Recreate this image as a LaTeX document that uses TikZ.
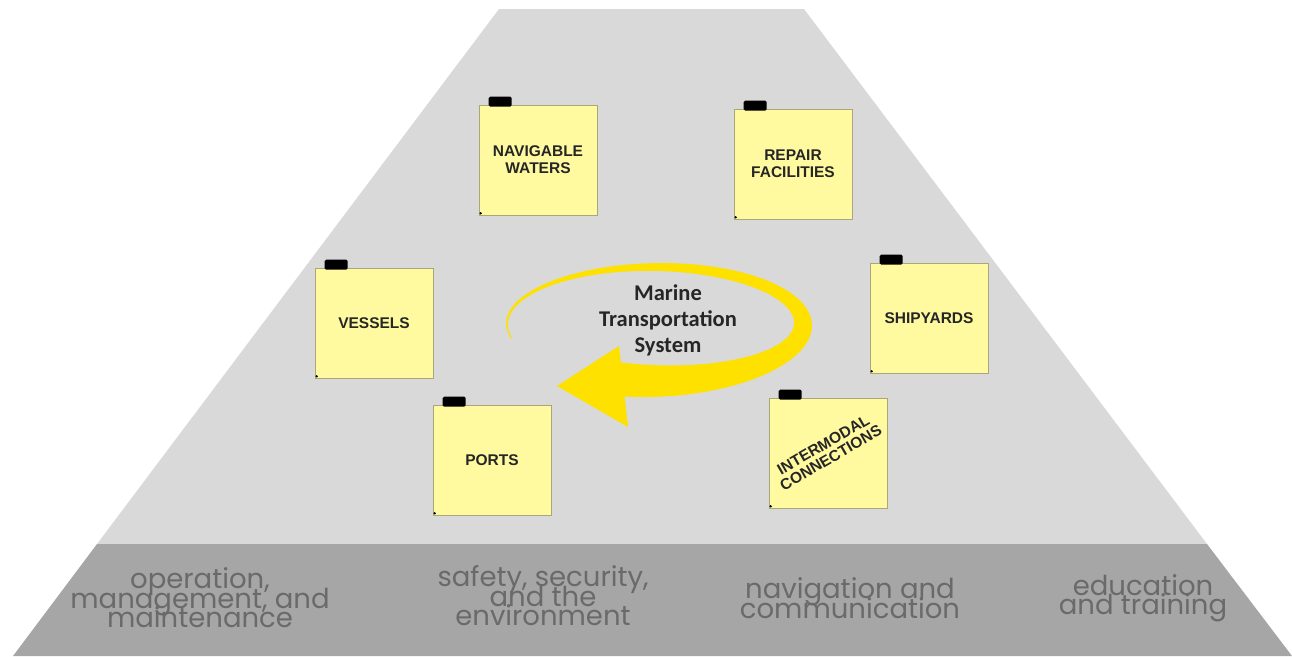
\documentclass[tikz,border=0pt]{standalone}
\usepackage{fontspec}
\setmainfont{Liberation Sans}
\newfontfamily\bandfont{Poppins}
\newfontfamily\titlefont{Carlito}
\definecolor{pyramid}{HTML}{D9D9D9}
\definecolor{band}{HTML}{A6A6A6}
\definecolor{bandtext}{HTML}{6A6A6A}
\definecolor{notefill}{HTML}{FFFA9F}
\definecolor{noteline}{HTML}{A8A67A}
\definecolor{loopyellow}{HTML}{FFE100}
\begin{document}
\begin{tikzpicture}[x=1pt,y=-1pt,
		declare function={lw(\t)=1+12*((\t-165)/298)+21*((\t-165)/298)^2;},
		note/.style={draw=noteline,line width=0.6pt,fill=notefill,minimum width=118pt,minimum height=110pt,inner sep=0pt,align=center,text=black!85,font=\bfseries\fontsize{15.5}{17}\selectfont},
		tab/.style={fill=black,rounded corners=1.5pt},
		bandlabel/.style={align=center,text=bandtext,font={\bandfont\fontsize{27.5}{19.5}\selectfont\lineskiplimit-30pt\relax}}]
				\useasboundingbox (0,0) rectangle (1292,656);
				\fill[pyramid] (499,9) -- (804,9) -- (1207,544) -- (97,544) -- cycle;
				\fill[band] (97,544) -- (1207,544) -- (1292,656) -- (13,656) -- cycle;
				\node[note] (waters) at (538,160) {NAVIGABLE\\WATERS};
				\node[note] (repair) at (793,164) {REPAIR\\FACILITIES};
				\node[note] (vessels) at (374,323) {VESSELS};
				\node[note] (shipyards) at (929,318) {SHIPYARDS};
				\node[note] (ports) at (492,460) {PORTS};
				\node[note] (intermodal) at (828,453) {\rotatebox{30}{\begin{tabular}{@{}c@{}}INTERMODAL\\[-2pt]CONNECTIONS\end{tabular}}};
				\foreach \n in {waters,repair,vessels,shipyards,ports,intermodal}{
					\fill[tab] ([xshift=10pt,yshift=8pt]\n.north west) rectangle ++(23,10);
					\fill ([xshift=2pt,yshift=2pt]\n.south west) circle (1.3pt);
				}
				\fill[loopyellow] plot[domain=165:466,samples=100] ({655+(148+lw(\x)/2)*cos(\x)},{324+(57+lw(\x)/2)*sin(\x)})
					-- plot[domain=466:165,samples=100] ({655+(148-lw(\x)/2)*cos(\x)},{324+(57-lw(\x)/2)*sin(\x)}) -- cycle;
				\fill[loopyellow] (557,386) -- (619,346) -- (628,427) -- cycle;
				\node[align=center,text=black!85,font=\titlefont\bfseries\fontsize{22.5}{26}\selectfont] (mts) at (668,320) {Marine\\Transportation\\System};
				\node[bandlabel] (ops) at (200,598) {operation,\\management, and\\maintenance};
				\node[bandlabel] (safety) at (543,596) {safety, security,\\and the\\environment};
				\node[bandlabel] (nav) at (850,598) {navigation and\\communication};
				\node[bandlabel] (edu) at (1143,598) {education\\and training};
\end{tikzpicture}
\end{document}
